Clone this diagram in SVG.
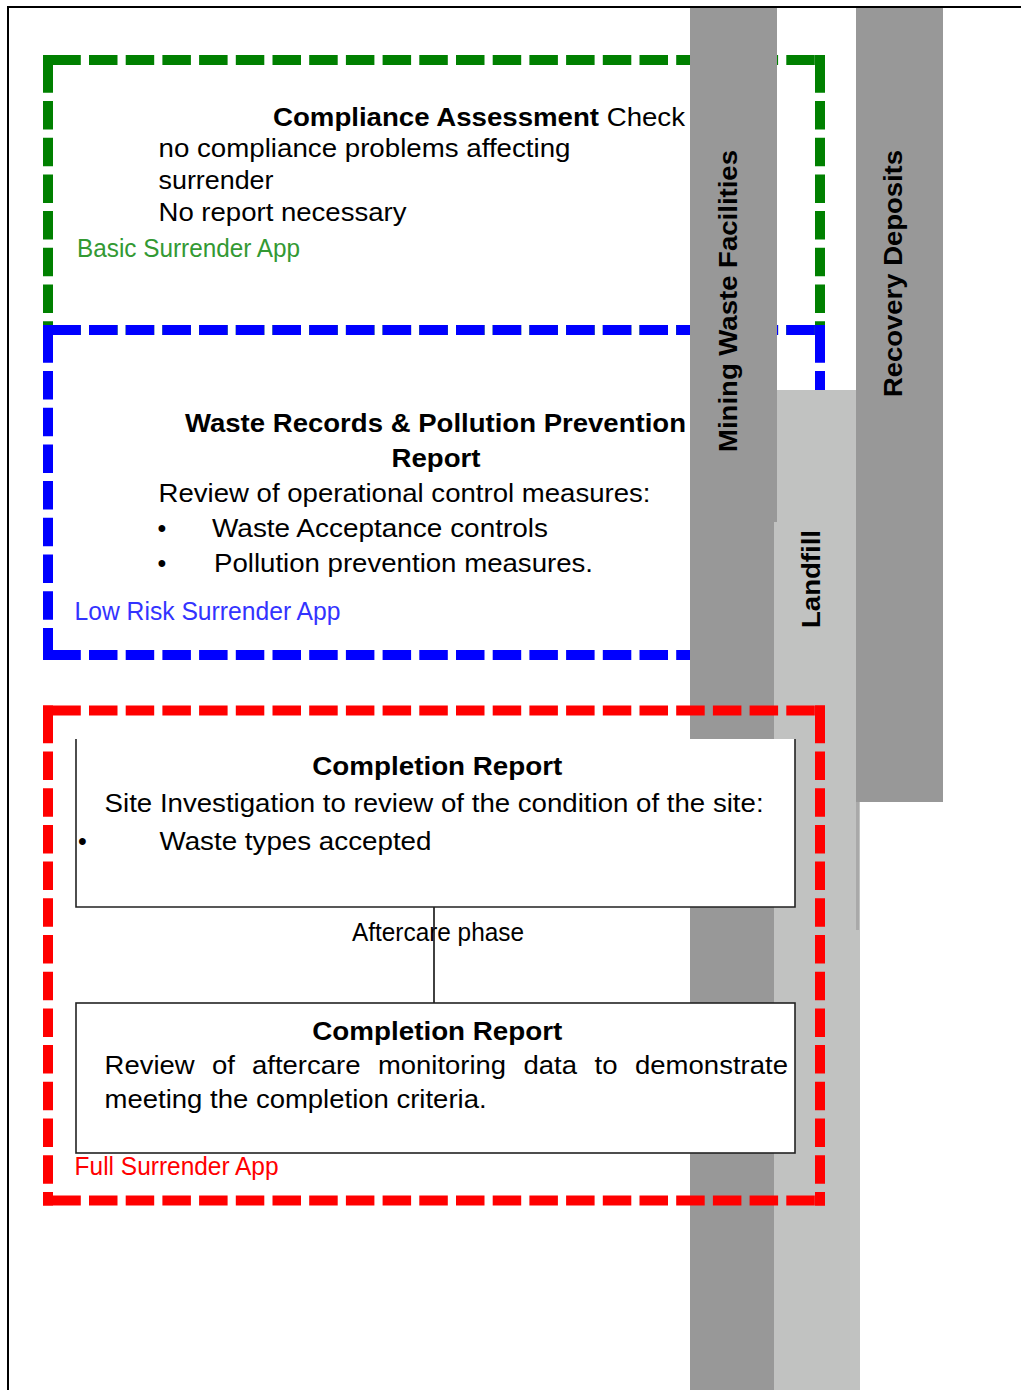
<svg xmlns="http://www.w3.org/2000/svg" width="1021" height="1390" viewBox="0 0 1021 1390">
<style>
.t{font-family:"Liberation Sans",Arial,sans-serif;font-size:25px;fill:#000}
.b{font-weight:bold}
.lg{fill:#339933}
.lb{fill:#3333ff}
.lr{fill:#ff0000}
.dash{fill:none;stroke-width:10;stroke-dasharray:28.5 8.2;stroke-dashoffset:-9.3}
.dg{stroke:#008000}
.db{stroke:#0000ff}
.dr{stroke:#ff0000}
.box{fill:#ffffff;stroke:#222;stroke-width:1.6}
.bar1{fill:#989898}
.bar2{fill:#c1c2c1}
.vt{font-family:"Liberation Sans",Arial,sans-serif;font-size:25px;font-weight:bold;fill:#000;text-anchor:middle}
</style>

<!-- outer frame -->
<g id="frame">
<rect x="7" y="6" width="1014" height="2" fill="#000"/>
<rect x="7" y="6" width="2" height="1384" fill="#000"/>
</g>

<!-- Basic surrender (green dashed) -->
<g id="basic-surrender-app">
<path class="dash dg" d="M43,60 H825 M48,55 V335 M820,55 V335 M43,330 H825"/>
<g fill="#008000"><rect x="43" y="55" width="10" height="10"/><rect x="815" y="55" width="10" height="10"/></g>
</g>

<!-- Low risk surrender (blue dashed) -->
<g id="low-risk-surrender-app">
<path class="dash db" d="M43,330 H825 M48,325 V660 M820,325 V660 M43,655 H825"/>
<g fill="#0000ff"><rect x="43" y="325" width="10" height="10"/><rect x="815" y="325" width="10" height="10"/><rect x="43" y="650" width="10" height="10"/><rect x="815" y="650" width="10" height="10"/></g>
</g>

<!-- vertical bars -->
<g id="mining-waste-facilities">
<rect class="bar1" x="690" y="8" width="87" height="1382"/>
<text class="vt" transform="translate(737,301) rotate(-90)" textLength="302" lengthAdjust="spacingAndGlyphs">Mining Waste Facilities</text>
</g>
<g id="recovery-deposits">
<rect class="bar1" x="856" y="8" width="87" height="794"/>
<text class="vt" transform="translate(902,273.5) rotate(-90)" textLength="247" lengthAdjust="spacingAndGlyphs">Recovery Deposits</text>
</g>
<g id="landfill">
<path class="bar2" d="M777,390 H856 V802 H860 V1390 H774 V522 H777 Z"/>
<rect x="856" y="802" width="3" height="128" fill="#a9a9a9"/>
<text class="vt" transform="translate(820,579) rotate(-90)" textLength="98" lengthAdjust="spacingAndGlyphs">Landfill</text>
</g>

<!-- Full surrender (red dashed) -->
<g id="full-surrender-app">
<path class="dash dr" d="M43,710.5 H825 M48,705.5 V1205.5 M820,705.5 V1205.5 M43,1200.5 H825"/>
<g fill="#ff0000"><rect x="43" y="705.5" width="10" height="10"/><rect x="815" y="705.5" width="10" height="10"/><rect x="43" y="1195.5" width="10" height="10"/><rect x="815" y="1195.5" width="10" height="10"/></g>
<text class="t lr" x="74.6" y="1175" textLength="204" lengthAdjust="spacingAndGlyphs">Full Surrender App</text>
</g>

<!-- green box texts -->
<g id="compliance-assessment">
<text class="t" x="273" y="126" textLength="412" lengthAdjust="spacingAndGlyphs"><tspan class="b">Compliance Assessment</tspan> Check</text>
<text class="t" x="158.5" y="157" textLength="412" lengthAdjust="spacingAndGlyphs">no compliance problems affecting</text>
<text class="t" x="158.5" y="189" textLength="115" lengthAdjust="spacingAndGlyphs">surrender</text>
<text class="t" x="158.5" y="221" textLength="248" lengthAdjust="spacingAndGlyphs">No report necessary</text>
<text class="t lg" x="77" y="257" textLength="223" lengthAdjust="spacingAndGlyphs">Basic Surrender App</text>
</g>

<!-- blue box texts -->
<g id="waste-records-report">
<text class="t b" x="185" y="432" textLength="501" lengthAdjust="spacingAndGlyphs">Waste Records &amp; Pollution Prevention</text>
<text class="t b" x="391.5" y="467" textLength="89" lengthAdjust="spacingAndGlyphs">Report</text>
<text class="t" x="158.5" y="502" textLength="492" lengthAdjust="spacingAndGlyphs">Review of operational control measures:</text>
<text class="t" x="157.6" y="537">•</text>
<text class="t" x="212" y="537" textLength="336" lengthAdjust="spacingAndGlyphs">Waste Acceptance controls</text>
<text class="t" x="157.6" y="571.5">•</text>
<text class="t" x="214" y="571.5" textLength="379" lengthAdjust="spacingAndGlyphs">Pollution prevention measures.</text>
<text class="t lb" x="74.5" y="620" textLength="266" lengthAdjust="spacingAndGlyphs">Low Risk Surrender App</text>
</g>

<!-- connectors -->
<g id="connectors">
<text class="t" x="352" y="941" textLength="172" lengthAdjust="spacingAndGlyphs">Aftercare phase</text>
<line x1="434" y1="905" x2="434" y2="1003" stroke="#111" stroke-width="1.6"/>
</g>

<!-- completion report 1 -->
<g id="completion-report-site-investigation">
<rect x="76" y="739" width="719" height="168" fill="#fff"/>
<path d="M76,739 V907 H795 V739" fill="none" stroke="#222" stroke-width="1.6"/>
<text class="t b" x="312.3" y="775" textLength="250" lengthAdjust="spacingAndGlyphs">Completion Report</text>
<text class="t" x="104.6" y="812" textLength="659" lengthAdjust="spacingAndGlyphs">Site Investigation to review of the condition of the site:</text>
<text class="t" x="78" y="850">•</text>
<text class="t" x="159.5" y="850" textLength="272" lengthAdjust="spacingAndGlyphs">Waste types accepted</text>
</g>

<!-- completion report 2 -->
<g id="completion-report-aftercare">
<rect class="box" x="76" y="1003" width="719" height="150"/>
<text class="t b" x="312.3" y="1040" textLength="250" lengthAdjust="spacingAndGlyphs">Completion Report</text>
<text class="t" y="1074"><tspan x="104.6" textLength="90" lengthAdjust="spacingAndGlyphs">Review</tspan> <tspan x="212" textLength="23" lengthAdjust="spacingAndGlyphs">of</tspan> <tspan x="252" textLength="108.5" lengthAdjust="spacingAndGlyphs">aftercare</tspan> <tspan x="378" textLength="128" lengthAdjust="spacingAndGlyphs">monitoring</tspan> <tspan x="523.5" textLength="53.5" lengthAdjust="spacingAndGlyphs">data</tspan> <tspan x="594.5" textLength="23" lengthAdjust="spacingAndGlyphs">to</tspan> <tspan x="635" textLength="153" lengthAdjust="spacingAndGlyphs">demonstrate</tspan></text>
<text class="t" x="104.6" y="1108" textLength="382" lengthAdjust="spacingAndGlyphs">meeting the completion criteria.</text>
</g>
</svg>
